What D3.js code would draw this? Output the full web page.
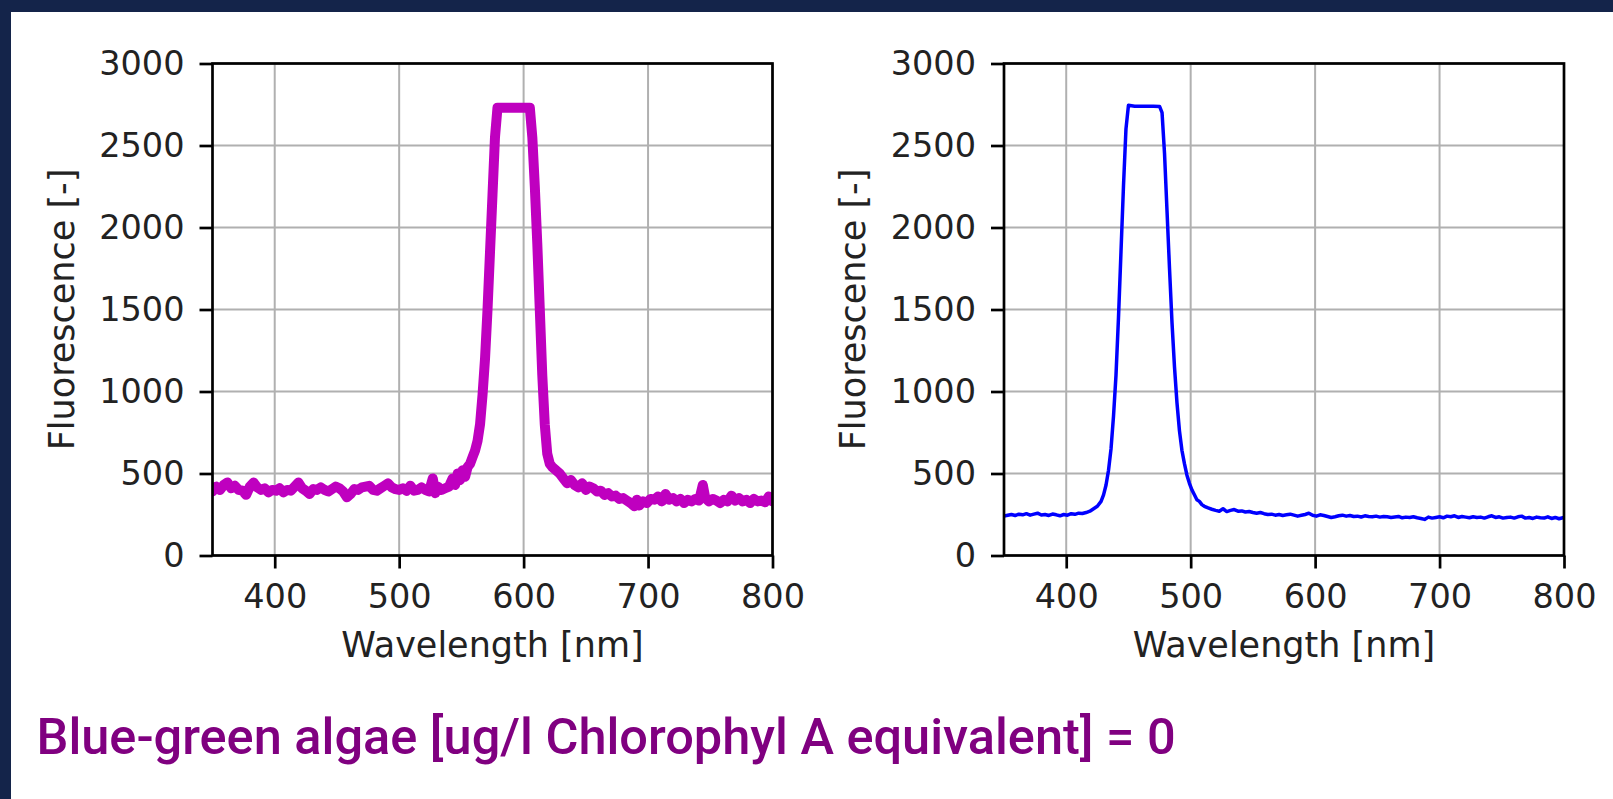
<!DOCTYPE html>
<html lang="en">
<head>
<meta charset="UTF-8">
<title>Fluorescence spectra</title>
<script src="https://cdn.jsdelivr.net/npm/d3@7"></script>
<style>
    body { margin: 0; background: #14244a; }
    .tick text { font-family: "DejaVu Sans", sans-serif; font-size: 33.5px; fill: #222; }
    .axis-label { font-family: "DejaVu Sans", sans-serif; font-size: 35px; fill: #222; }
    .grid line { stroke: #b0b0b0; stroke-width: 2px; }
    .title { font-family: Roboto, sans-serif; font-weight: 500; font-size: 50.5px; fill: #800080; }
</style>
</head>
<body>
<svg id="chart" width="1613" height="799"></svg>
<script>
// axis ticks
const xTicks = [400, 500, 600, 700, 800];
const yTicks = [0, 500, 1000, 1500, 2000, 2500, 3000];

// left spectrum (magenta)
const leftWavelength = [350,353,356,359,362,365,368,371,374,377,380,383,386,389,392,395,398,401,404,407,410,413,416,419,422,425,428,431,434,437,440,443,446,449,452,455,458,461,464,467,470,473,476,479,482,485,488,491,494,497,500,503,506,509,512,515,518,521,524,527,529,531,534,537,540,543,545,547,549,551,553,555,557,559,561,563,565,567,569,571,573,575,577,579,585,590,595,600,605,607,609,611,613,615,617,619,621,623,626,629,632,635,638,641,644,647,650,653,656,659,662,665,668,671,674,677,680,683,686,689,691,693,696,699,702,705,708,711,714,717,720,723,726,729,732,735,738,741,744,746,749,752,755,758,761,764,767,770,773,776,779,782,785,788,791,794,797,800];
const leftFluorescence = [390,420,400,430,445,410,425,400,395,370,420,445,415,400,410,385,400,395,410,385,400,395,420,445,410,395,375,405,400,415,400,390,405,420,410,390,355,375,405,400,415,420,425,400,395,410,425,440,415,405,400,410,395,425,395,400,415,400,390,470,380,420,400,410,420,470,430,500,460,520,480,540,560,600,640,700,800,980,1200,1500,1850,2200,2550,2730,2730,2730,2730,2730,2730,2550,2250,1900,1500,1100,800,620,560,540,520,500,470,440,460,430,415,440,400,420,410,390,395,370,380,360,365,345,350,335,320,300,340,305,330,320,345,340,360,330,375,340,350,330,345,320,340,330,345,335,430,350,330,345,335,320,340,330,365,335,350,330,340,320,345,330,335,325,360,330];

// right spectrum (blue)
const rightWavelength = [350,353,356,359,362,365,368,371,374,377,380,383,386,389,392,395,398,401,404,407,410,413,416,419,422,425,428,430,432,434,436,438,440,442,444,446,448,450,455,460,465,470,475,477,479,481,483,485,487,489,491,493,495,497,499,501,503,505,507,509,511,514,517,520,523,526,529,532,535,538,541,544,547,550,553,556,559,562,565,568,571,574,577,580,583,586,589,592,595,598,601,604,607,610,613,616,619,622,625,628,631,634,637,640,643,646,649,652,655,658,661,664,667,670,673,676,679,682,685,688,691,694,697,700,703,706,709,712,715,718,721,724,727,730,733,736,739,742,745,748,751,754,757,760,763,766,769,772,775,778,781,784,787,790,793,796,799,800];
const rightFluorescence = [240,245,250,244,252,248,255,246,252,258,247,250,244,253,248,242,250,246,255,251,258,256,262,270,285,300,330,370,430,520,650,850,1100,1450,1850,2250,2600,2745,2740,2740,2740,2740,2738,2700,2450,2100,1750,1420,1150,930,760,640,560,490,440,400,370,340,330,310,300,290,282,275,270,285,268,275,280,270,272,265,268,262,258,262,255,250,252,246,250,244,248,252,246,240,245,250,258,245,240,248,244,238,232,236,242,246,240,244,238,240,235,242,238,236,240,234,238,236,232,235,238,230,234,232,236,230,226,220,234,228,232,236,230,240,236,242,232,238,234,230,236,232,234,228,236,242,232,236,228,232,234,228,236,240,228,232,226,234,230,228,236,226,232,224,230,232];

const svg = d3.select('#chart');

// white card over the dark page
svg.append('rect')
    .attr('x', 11).attr('y', 12)
    .attr('width', 1613 - 11).attr('height', 799 - 12)
    .attr('fill', '#fff');

const plotTop = 63.5, plotBottom = 555.5, plotW = 560;

function drawPanel(x0, wl, vals, color, lineWidth, id) {
    const x = d3.scaleLinear().domain([350, 800]).range([x0, x0 + plotW]);
    const y = d3.scaleLinear().domain([0, 3000]).range([plotBottom, plotTop]);
    const g = svg.append('g');

    g.append('clipPath').attr('id', 'clip' + id)
        .append('rect')
        .attr('x', x0).attr('y', plotTop)
        .attr('width', plotW).attr('height', plotBottom - plotTop);

    // grid
    const grid = g.append('g').attr('class', 'grid');
    grid.selectAll('line.v').data(xTicks).enter().append('line')
        .attr('x1', d => x(d)).attr('x2', d => x(d))
        .attr('y1', plotTop).attr('y2', plotBottom);
    grid.selectAll('line.h').data(yTicks).enter().append('line')
        .attr('x1', x0).attr('x2', x0 + plotW)
        .attr('y1', d => y(d)).attr('y2', d => y(d));

    const line = d3.line()
        .x((d, i) => x(wl[i]))
        .y(d => y(d));

    g.append('path')
        .datum(vals)
        .attr('clip-path', 'url(#clip' + id + ')')
        .attr('fill', 'none')
        .attr('stroke', color)
        .attr('stroke-width', lineWidth)
        .attr('stroke-linejoin', 'round')
        .attr('stroke-linecap', 'round')
        .attr('d', line);

    // axes
    const xAxis = g.append('g')
        .attr('transform', `translate(0,${plotBottom})`)
        .call(d3.axisBottom(x).tickValues(xTicks).tickFormat(d3.format('d'))
            .tickSize(13).tickPadding(16).tickSizeOuter(0));
    const yAxis = g.append('g')
        .attr('transform', `translate(${x0},0)`)
        .call(d3.axisLeft(y).tickValues(yTicks).tickFormat(d3.format('d'))
            .tickSize(13).tickPadding(15).tickSizeOuter(0));
    [xAxis, yAxis].forEach(a => {
        a.select('.domain').remove();
        a.selectAll('.tick line').attr('stroke', '#000').attr('stroke-width', 2.7);
    });

    // spines
    g.append('rect')
        .attr('x', x0).attr('y', plotTop)
        .attr('width', plotW).attr('height', plotBottom - plotTop)
        .attr('fill', 'none')
        .attr('stroke', '#000')
        .attr('stroke-width', 2.7);

    g.append('text')
        .attr('class', 'axis-label')
        .attr('x', x0 + plotW / 2).attr('y', 656.5)
        .attr('text-anchor', 'middle')
        .text('Wavelength [nm]');

    g.append('text')
        .attr('class', 'axis-label')
        .attr('transform', `translate(${x0 - 139},${(plotTop + plotBottom) / 2}) rotate(-90)`)
        .attr('text-anchor', 'middle')
        .text('Fluorescence [-]');
}

drawPanel(212.5, leftWavelength, leftFluorescence, '#bf00bf', 10, 'L');
drawPanel(1004, rightWavelength, rightFluorescence, '#0000ff', 3.5, 'R');

svg.append('text')
    .attr('class', 'title')
    .attr('x', 36.5).attr('y', 753.5)
    .text('Blue-green algae [ug/l Chlorophyl A equivalent] = 0');
</script>
</body>
</html>
